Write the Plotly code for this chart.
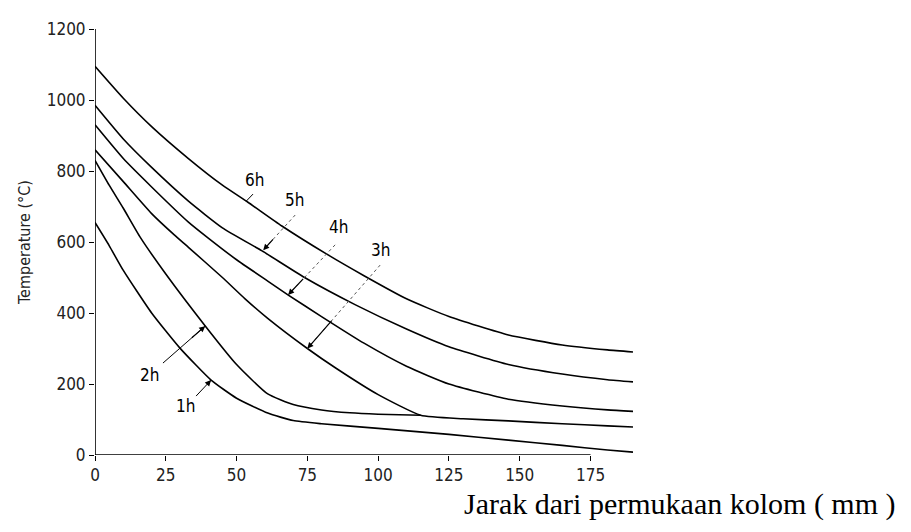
import plotly.graph_objects as go

# ---- data ----
x_6h = [0, 10, 20, 33, 45, 54, 66, 82, 95, 110, 125, 146, 165, 181, 190]
t_6h = [1095, 1005, 925, 835, 760, 712, 645, 565, 505, 440, 390, 338, 310, 296, 290]

x_5h = [0, 10, 20, 33, 45, 59, 74, 92, 110, 125, 146, 165, 181, 190]
t_5h = [985, 890, 810, 715, 640, 575, 500, 423, 355, 305, 255, 228, 212, 206]

x_4h = [0, 10, 20, 33, 40, 50, 61, 68, 80, 95, 110, 125, 146, 165, 181, 190]
t_4h = [930, 835, 755, 656, 611, 550, 490, 452, 390, 315, 250, 200, 157, 138, 127, 123]

x_3h = [0, 10, 20, 28, 33, 45, 53, 61, 75, 85, 100, 115, 130, 146, 165, 181, 190]
t_3h = [860, 770, 680, 620, 585, 500, 440, 385, 300, 245, 170, 112, 102, 96, 88, 82, 79]

x_2h = [0, 5, 10, 16, 25, 39, 50, 61, 70, 80, 90, 100, 115]
t_2h = [830, 760, 695, 613, 510, 363, 255, 172, 142, 127, 119, 115, 112]

x_1h = [0, 5, 10, 20, 30, 41, 50, 61, 70, 80, 100, 125, 146, 165, 181, 190]
t_1h = [655, 590, 520, 400, 301, 211, 160, 118, 97, 88, 75, 58, 42, 27, 14, 8]

x_ticks = [0, 25, 50, 75, 100, 125, 150, 175]
x_tick_labels = ["0", "25", "50", "75", "100", "125", "150", "175"]
y_ticks = [0, 200, 400, 600, 800, 1000, 1200]
y_tick_labels = ["0", "200", "400", "600", "800", "1000", "1200"]

series = [(x_6h, t_6h), (x_5h, t_5h), (x_4h, t_4h),
          (x_3h, t_3h), (x_2h, t_2h), (x_1h, t_1h)]

# label: (text pos, leader start, tip, dashed)
labels = {
    "6h": ((56.2, 775), (55.8, 735), (53.4, 715), False),
    "5h": ((70.3, 718), (70.7, 676), (59.4, 577), True),
    "4h": ((85.9, 642), (84.8, 592), (68.2, 451), True),
    "3h": ((101.0, 577), (100.7, 535), (75.0, 300), True),
    "2h": ((19.4, 225), (24.0, 259), (38.9, 363), False),
    "1h": ((32.0, 138), (35.7, 166), (41.0, 211), False),
}

NUM_FONT = "Liberation Sans Narrow, DejaVu Sans Condensed, Arial Narrow, sans-serif"

fig = go.Figure()
for xs, ts in series:
    fig.add_trace(go.Scatter(x=xs, y=ts, mode="lines",
                             line=dict(color="black", width=1.6, shape="spline", smoothing=0.5),
                             showlegend=False, hoverinfo="skip"))

shapes = [
    dict(type="line", xref="x", yref="y", x0=0, y0=0, x1=175, y1=0,
         line=dict(color="black", width=1.6)),
    dict(type="line", xref="x", yref="y", x0=0, y0=0, x1=0, y1=1200,
         line=dict(color="black", width=1.6)),
]
annotations = []
for name, (tp, st, tip, dashed) in labels.items():
    annotations.append(dict(x=tp[0], y=tp[1], xref="x", yref="y", text=name,
                            showarrow=False,
                            font=dict(family=NUM_FONT, size=17, color="black")))
    shapes.append(dict(type="line", xref="x", yref="y", x0=st[0], y0=st[1],
                       x1=tip[0], y1=tip[1],
                       line=dict(color="#555" if dashed else "black", width=1,
                                 dash="dot" if dashed else "solid")))
    bx = tip[0] + (st[0] - tip[0]) * 0.35
    by = tip[1] + (st[1] - tip[1]) * 0.35
    annotations.append(dict(x=tip[0], y=tip[1], ax=bx, ay=by, xref="x", yref="y",
                            axref="x", ayref="y", text="", showarrow=True,
                            arrowhead=2, arrowsize=1, arrowwidth=1.2,
                            arrowcolor="black", standoff=0, startstandoff=0))

L, R, T, B = 87, 286, 21, 85
W, H = 911, 532
pw, ph = W - L - R, H - T - B
title_px_right, title_px_mid = 890, 496
annotations.append(dict(x=(title_px_right - L) / pw, y=(H - B - title_px_mid) / ph,
                        xref="paper", yref="paper",
                        xanchor="right", yanchor="middle", showarrow=False,
                        text="Jarak dari permukaan kolom ( mm )",
                        font=dict(family="Liberation Serif, Times New Roman, serif",
                                  size=30, color="black")))

fig.update_layout(
    width=W, height=H,
    margin=dict(l=L, r=R, t=T, b=B, autoexpand=False),
    paper_bgcolor="white", plot_bgcolor="white",
    shapes=shapes, annotations=annotations,
    xaxis=dict(range=[0, 190], showgrid=False, zeroline=False, showline=False,
               automargin=False,
               tickvals=x_ticks, ticktext=x_tick_labels, ticks="outside",
               ticklen=5, tickwidth=1.2, tickcolor="black",
               tickfont=dict(family=NUM_FONT, size=17, color="#222")),
    yaxis=dict(range=[0, 1200], showgrid=False, zeroline=False, showline=False,
               automargin=False,
               tickvals=y_ticks, ticktext=y_tick_labels, ticks="outside",
               ticklen=5, tickwidth=1.2, tickcolor="black",
               tickfont=dict(family=NUM_FONT, size=17, color="#222"),
               title=dict(text="Temperature (°C)", standoff=12,
                          font=dict(family=NUM_FONT, size=16, color="#222"))),
)

fig.write_html("out.html")
